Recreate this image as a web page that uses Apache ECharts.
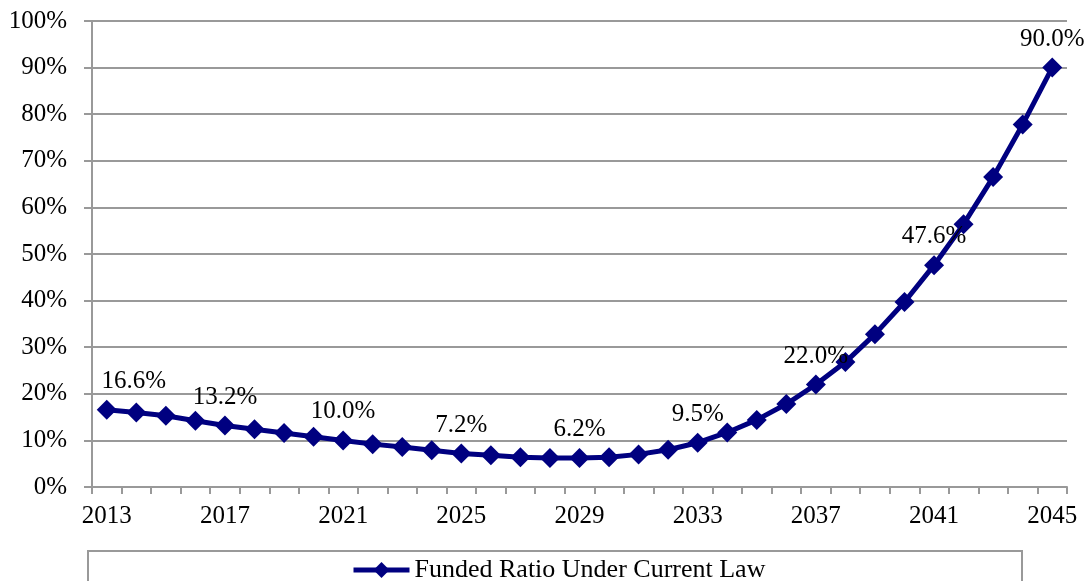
<!DOCTYPE html>
<html>
<head>
<meta charset="utf-8">
<script src="https://cdn.jsdelivr.net/npm/echarts@6/dist/echarts.min.js"></script>
<style>html,body{margin:0;padding:0;background:#fff}#c{width:1088px;height:581px}</style>
</head>
<body>
<div id="c"></div>
<script>
const years = ['2013','2014','2015','2016','2017','2018','2019','2020','2021','2022','2023','2024','2025','2026','2027','2028','2029','2030','2031','2032','2033','2034','2035','2036','2037','2038','2039','2040','2041','2042','2043','2044','2045'];
const fundedRatio = [16.6,16.0,15.3,14.2,13.2,12.4,11.6,10.8,10.0,9.2,8.6,7.9,7.2,6.8,6.4,6.2,6.2,6.4,7.0,8.0,9.5,11.7,14.4,17.8,22.0,26.8,32.8,39.7,47.6,56.4,66.5,77.8,90.0];
const labeledYears = ['2013','2017','2021','2025','2029','2033','2037','2041','2045'];
const seriesName = 'Funded Ratio Under Current Law';

const FONT = '"Liberation Serif", "DejaVu Serif", serif';
const data = fundedRatio.map((v, i) => {
  const d = { value: v };
  if (labeledYears.includes(years[i])) {
    d.label = {
      show: true, position: 'top', distance: 6,
      formatter: p => p.value.toFixed(1) + '%',
      fontFamily: FONT, fontSize: 25, color: '#000',
      offset: i === 0 ? [27, 0] : [0, 0]
    };
  }
  return d;
});

const chart = echarts.init(document.getElementById('c'));
chart.setOption({
  animation: false,
  grid: { left: 92, right: 21, top: 21, bottom: 94 },
  xAxis: {
    type: 'category', data: years, boundaryGap: true,
    axisLine: { lineStyle: { color: '#999', width: 2 } },
    axisTick: { show: true, length: 7, interval: 0, lineStyle: { color: '#999', width: 2 } },
    axisLabel: { interval: 3, margin: 17, fontFamily: FONT, fontSize: 25, color: '#000' },
    splitLine: { show: false }
  },
  yAxis: {
    type: 'value', min: 0, max: 100, interval: 10,
    axisLine: { show: true, lineStyle: { color: '#999', width: 2 } },
    axisTick: { show: true, length: 8, lineStyle: { color: '#999', width: 2 } },
    axisLabel: { margin: 25, fontFamily: FONT, fontSize: 25, color: '#000', formatter: v => v + '%' },
    splitLine: { show: true, lineStyle: { color: '#999', width: 2 } }
  },
  legend: {
    data: [seriesName], left: 346, top: 552,
    itemWidth: 56, itemHeight: 20, itemGap: 2,
    lineStyle: { width: 5 },
    textStyle: { fontFamily: FONT, fontSize: 26, color: '#000' }
  },
  graphic: [{
    type: 'rect', shape: { x: 88, y: 551, width: 934, height: 60 },
    style: { fill: 'none', stroke: '#999', lineWidth: 2 }, silent: true
  }],
  series: [{
    name: seriesName, type: 'line', data: data,
    symbol: 'diamond', symbolSize: 20, showAllSymbol: true,
    lineStyle: { color: '#000080', width: 5 },
    itemStyle: { color: '#000080' },
    label: { show: false }
  }]
});
</script>
</body>
</html>
